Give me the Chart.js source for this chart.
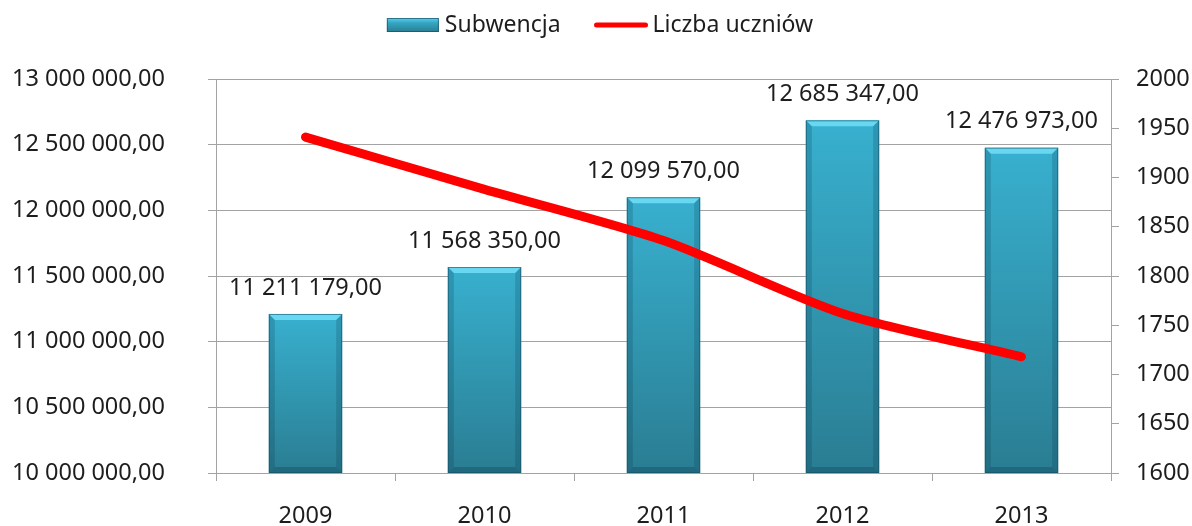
<!DOCTYPE html>
<html>
<head>
<meta charset="utf-8">
<script src="https://cdn.jsdelivr.net/npm/chart.js@4"></script>
<style>
html,body{margin:0;padding:0;background:#fff;}
#wrap{width:1192px;height:526px;position:relative;}
</style>
</head>
<body>
<div id="wrap"><canvas id="c"></canvas></div>
<script>
const categories = ['2009', '2010', '2011', '2012', '2013'];
const subwencja = [11211179, 11568350, 12099570, 12685347, 12476973];
const liczbaUczniow = [1941, 1888, 1836, 1762, 1718];
const seriesNames = ['Subwencja', 'Liczba uczniów'];

function fmtPL(v) {
  const s = Math.round(v).toString().replace(/\B(?=(\d{3})+(?!\d))/g, ' ');
  return s + ',00';
}

const FONT = '"Noto Sans", "Open Sans", sans-serif';
const FS = 23.5;
const TEXT = '#1d1d1d';
const GRID = '#a3a3a3';

function barFill(ctx) {
  const chart = ctx.chart;
  const ca = chart.chartArea;
  if (!ca || ctx.type !== 'data') return '#33A3C0';
  const top = chart.scales.y.getPixelForValue(ctx.raw);
  const g = chart.ctx.createLinearGradient(0, top, 0, ca.bottom);
  g.addColorStop(0, '#38B0CF');
  g.addColorStop(1, '#2A7D92');
  return g;
}

const customLegend = {
  id: 'customLegend',
  afterDraw(chart) {
    const ctx = chart.ctx;
    const names = chart.data.datasets.map(d => d.label);
    ctx.save();
    ctx.font = '23px ' + FONT;
    const w0 = ctx.measureText(names[0]).width;
    const w1 = ctx.measureText(names[1]).width;
    const boxW = 52, lineW = 53, g1 = 6, g2 = 34, g3 = 5;
    const total = boxW + g1 + w0 + g2 + lineW + g3 + w1;
    let x = chart.width / 2 + 4 - total / 2;
    const cy = 25;
    const gr = ctx.createLinearGradient(0, cy - 7, 0, cy + 7);
    gr.addColorStop(0, '#5ccfee');
    gr.addColorStop(0.35, '#34A6C3');
    gr.addColorStop(1, '#2A7D92');
    ctx.fillStyle = gr;
    ctx.fillRect(x, cy - 7, boxW, 14);
    ctx.strokeStyle = 'rgba(20,80,100,0.7)';
    ctx.lineWidth = 1;
    ctx.strokeRect(x + 0.5, cy - 6.5, boxW - 1, 13);
    x += boxW + g1;
    ctx.fillStyle = TEXT;
    ctx.textAlign = 'left';
    ctx.textBaseline = 'middle';
    ctx.fillText(names[0], x, cy);
    x += w0 + g2;
    ctx.strokeStyle = '#FF0000';
    ctx.lineWidth = 5;
    ctx.lineCap = 'round';
    ctx.beginPath();
    ctx.moveTo(x + 2, cy); ctx.lineTo(x + lineW - 2, cy); ctx.stroke();
    x += lineW + g3;
    ctx.fillText(names[1], x, cy);
    ctx.restore();
  }
};

const bevelPlugin = {
  id: 'bevel',
  afterDatasetDraw(chart, args) {
    if (args.index !== 0) return;
    const ctx = chart.ctx;
    const meta = chart.getDatasetMeta(0);
    const ca = chart.chartArea;
    ctx.save();
    meta.data.forEach(bar => {
      const l = bar.x - bar.width / 2, r = bar.x + bar.width / 2;
      const t = bar.y, b = Math.min(bar.base, ca.bottom);
      const d = 6;
      ctx.fillStyle = 'rgba(110,220,245,0.9)';
      ctx.beginPath();
      ctx.moveTo(l, t); ctx.lineTo(r, t); ctx.lineTo(r - d, t + d); ctx.lineTo(l + d, t + d); ctx.closePath(); ctx.fill();
      ctx.fillStyle = 'rgba(0,40,60,0.18)';
      ctx.beginPath();
      ctx.moveTo(l, t); ctx.lineTo(l + d, t + d); ctx.lineTo(l + d, b - d); ctx.lineTo(l, b); ctx.closePath(); ctx.fill();
      ctx.beginPath();
      ctx.moveTo(r, t); ctx.lineTo(r - d, t + d); ctx.lineTo(r - d, b - d); ctx.lineTo(r, b); ctx.closePath(); ctx.fill();
      ctx.fillStyle = 'rgba(0,30,50,0.22)';
      ctx.beginPath();
      ctx.moveTo(l, b); ctx.lineTo(r, b); ctx.lineTo(r - d, b - d); ctx.lineTo(l + d, b - d); ctx.closePath(); ctx.fill();
      ctx.strokeStyle = 'rgba(20,80,100,0.6)';
      ctx.lineWidth = 1;
      ctx.strokeRect(l + 0.5, t + 0.5, bar.width - 1, b - t - 1);
    });
    ctx.restore();
  }
};

const labelPlugin = {
  id: 'barLabels',
  afterDatasetsDraw(chart) {
    const ctx = chart.ctx;
    const meta = chart.getDatasetMeta(0);
    ctx.save();
    ctx.font = FS + 'px ' + FONT;
    ctx.fillStyle = TEXT;
    ctx.textAlign = 'center';
    ctx.textBaseline = 'middle';
    meta.data.forEach((bar, i) => {
      ctx.fillText(fmtPL(chart.data.datasets[0].data[i]), bar.x, bar.y - 26);
    });
    ctx.restore();
  }
};

new Chart(document.getElementById('c'), {
  data: {
    labels: categories,
    datasets: [
      {
        type: 'bar',
        label: seriesNames[0],
        data: subwencja,
        yAxisID: 'y',
        backgroundColor: barFill,
        borderWidth: 0,
        barPercentage: 0.41,
        categoryPercentage: 1,
        order: 2
      },
      {
        type: 'line',
        label: seriesNames[1],
        data: liczbaUczniow,
        yAxisID: 'y1',
        borderColor: '#FF0000',
        backgroundColor: '#FF0000',
        borderWidth: 9,
        borderCapStyle: 'round',
        borderJoinStyle: 'round',
        pointRadius: 0,
        tension: 0.25,
        order: 1
      }
    ]
  },
  options: {
    responsive: true,
    maintainAspectRatio: false,
    animation: false,
    layout: { autoPadding: false, padding: { top: 79, left: 12, right: 0, bottom: 0 } },
    plugins: {
      tooltip: { enabled: false },
      legend: { display: false }
    },
    scales: {
      x: {
        grid: { offset: true, drawOnChartArea: false, drawTicks: true, tickLength: 8, color: GRID },
        border: { color: GRID },
        ticks: { font: { family: FONT, size: FS }, color: TEXT, padding: 21 },
        afterFit(scale) { scale.height = 53; }
      },
      y: {
        position: 'left',
        min: 10000000,
        max: 13000000,
        ticks: { stepSize: 500000, font: { family: FONT, size: FS }, color: TEXT, padding: 4, crossAlign: 'far', callback: v => fmtPL(v) },
        grid: { color: GRID, tickLength: 8 },
        border: { color: GRID },
        afterFit(scale) { scale.width = 204; }
      },
      y1: {
        position: 'right',
        min: 1600,
        max: 2000,
        ticks: { stepSize: 50, font: { family: FONT, size: FS }, color: TEXT, padding: 17, callback: v => String(v) },
        grid: { drawOnChartArea: false, color: GRID, tickLength: 8 },
        border: { color: GRID },
        afterFit(scale) { scale.width = 81; }
      }
    }
  },
  plugins: [bevelPlugin, labelPlugin, customLegend]
});
</script>
</body>
</html>
